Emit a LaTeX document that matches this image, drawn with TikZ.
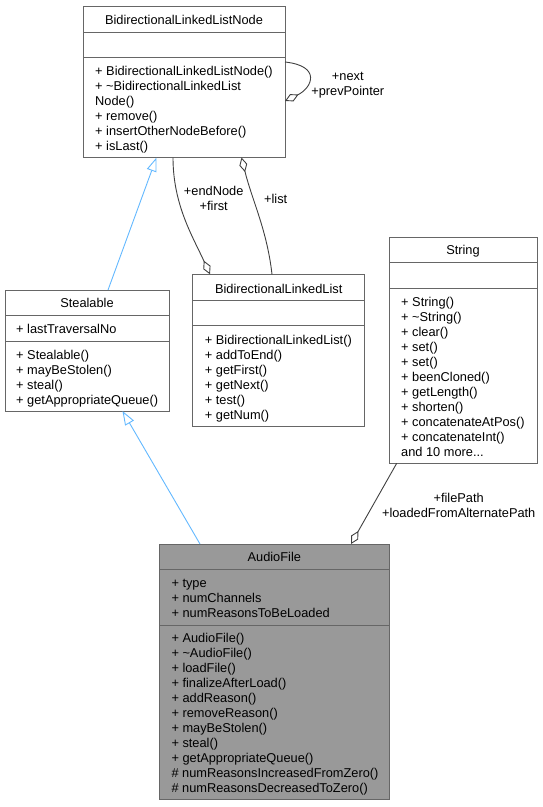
\documentclass[tikz,border=0pt]{standalone}
\usepackage{fontspec}
\setmainfont{Liberation Sans}
\usetikzlibrary{arrows.meta}
\definecolor{boxgray}{HTML}{666666}
\definecolor{edgegray}{HTML}{404040}
\definecolor{inhblue}{HTML}{63B8FF}
\definecolor{hifill}{HTML}{999999}
\newcommand{\dgfont}{\fontsize{12.8}{15}\selectfont}
\begin{document}
\begin{tikzpicture}[x=1pt,y=-1pt,
 classbox/.style={draw=boxgray, line width=1pt, rectangle, inner sep=0pt, outer sep=0pt, anchor=north west},
 sepline/.style={draw=boxgray, line width=1pt},
 clstitle/.style={anchor=base, inner sep=0pt, font=\dgfont},
 mem/.style={anchor=base west, inner sep=0pt, font=\dgfont},
 lbl/.style={align=center, inner sep=0pt, font=\dgfont},
 assoc/.style={draw=edgegray, line width=0.9pt, -{Diamond[open, length=15pt, width=8pt]}},
 inherit/.style={draw=inhblue, line width=0.9pt, -{Triangle[open, length=14pt, width=10pt]}},
]
\useasboundingbox (0,0) rectangle (543,807);

% BidirectionalLinkedListNode
\node[classbox, minimum width=202pt, minimum height=151.5pt] (bllnode) at (83,6) {};
\draw[sepline] (bllnode.west |- 0,32) -- (bllnode.east |- 0,32);
\draw[sepline] (bllnode.west |- 0,57) -- (bllnode.east |- 0,57);
\node[clstitle] (bllnodeT) at (184,24.1) {BidirectionalLinkedListNode};
\foreach \t [count=\i] in {{+ BidirectionalLinkedListNode()},{+ \textasciitilde BidirectionalLinkedList},{Node()},{+ remove()},{+ insertOtherNodeBefore()},{+ isLast()}}
  \node[mem] (bllnodeM\i) at (95,{75.6+15*(\i-1)}) {\t};

% Stealable
\node[classbox, minimum width=164pt, minimum height=121pt] (stealable) at (5,290) {};
\draw[sepline] (stealable.west |- 0,315.7) -- (stealable.east |- 0,315.7);
\draw[sepline] (stealable.west |- 0,341) -- (stealable.east |- 0,341);
\node[clstitle] (stealableT) at (87,307.8) {Stealable};
\node[mem] (stealableA1) at (16,333.5) {+ lastTraversalNo};
\foreach \t [count=\i] in {{+ Stealable()},{+ mayBeStolen()},{+ steal()},{+ getAppropriateQueue()}}
  \node[mem] (stealableM\i) at (16,{359.6+15*(\i-1)}) {\t};

% BidirectionalLinkedList
\node[classbox, minimum width=172pt, minimum height=152.4pt] (bll) at (192.7,274.3) {};
\draw[sepline] (bll.west |- 0,300) -- (bll.east |- 0,300);
\draw[sepline] (bll.west |- 0,325.7) -- (bll.east |- 0,325.7);
\node[clstitle] (bllT) at (278.7,293) {BidirectionalLinkedList};
\foreach \t [count=\i] in {{+ BidirectionalLinkedList()},{+ addToEnd()},{+ getFirst()},{+ getNext()},{+ test()},{+ getNum()}}
  \node[mem] (bllM\i) at (204.7,{344.8+15*(\i-1)}) {\t};

% String
\node[classbox, minimum width=148pt, minimum height=226pt] (string) at (389,237.3) {};
\draw[sepline] (string.west |- 0,262.7) -- (string.east |- 0,262.7);
\draw[sepline] (string.west |- 0,288.3) -- (string.east |- 0,288.3);
\node[clstitle] (stringT) at (463,254.8) {String};
\foreach \t [count=\i] in {{+ String()},{+ \textasciitilde String()},{+ clear()},{+ set()},{+ set()},{+ beenCloned()},{+ getLength()},{+ shorten()},{+ concatenateAtPos()},{+ concatenateInt()}}
  \node[mem] (stringM\i) at (401,{306.9+15*(\i-1)}) {\t};
\node[mem] (stringMore) at (401,456.9) {and 10 more...};

% AudioFile
\node[classbox, fill=hifill, minimum width=230pt, minimum height=255pt] (audiofile) at (159.3,544) {};
\draw[sepline] (audiofile.west |- 0,569.3) -- (audiofile.east |- 0,569.3);
\draw[sepline] (audiofile.west |- 0,625) -- (audiofile.east |- 0,625);
\node[clstitle] (audiofileT) at (274.3,561.4) {AudioFile};
\foreach \t [count=\i] in {{+ type},{+ numChannels},{+ numReasonsToBeLoaded}}
  \node[mem] (audiofileA\i) at (171.3,{587.3+15*(\i-1)}) {\t};
\foreach \t [count=\i] in {{+ AudioFile()},{+ \textasciitilde AudioFile()},{+ loadFile()},{+ finalizeAfterLoad()},{+ addReason()},{+ removeReason()},{+ mayBeStolen()},{+ steal()},{+ getAppropriateQueue()},{\# numReasonsIncreasedFromZero()},{\# numReasonsDecreasedToZero()}}
  \node[mem] (audiofileM\i) at (171.3,{642.9+15*(\i-1)}) {\t};

% inheritance
\draw[inherit] (stealable.north -| 108,0) -- (bllnode.south -| 156.5,0);
\draw[inherit] (audiofile.north -| 200,0) -- (stealable.south -| 122.5,0);

% associations
\draw[assoc] (bllnode.east |- 0,62) .. controls (322,66) and (312,88) .. (bllnode.east |- 0,101);
\draw[assoc] (bllnode.south -| 173,0) .. controls (173,205) and (193,237) .. (bll.north -| 210,0);
\draw[assoc] (bll.north -| 272,0) .. controls (267,230) and (252,200) .. (bllnode.south -| 241.5,0);
\draw[assoc] (string.south -| 396.7,0) -- (audiofile.north -| 351,0);

% labels
\node[lbl] (lnext) at (347.8,85.2) {+next\\+prevPointer};
\node[lbl] (lend) at (213.7,198.7) {+endNode\\+first};
\node[lbl] (llist) at (275.7,199.3) {+list};
\node[lbl] (lfile) at (458.7,505.5) {+filePath\\+loadedFromAlternatePath};
\end{tikzpicture}
\end{document}
